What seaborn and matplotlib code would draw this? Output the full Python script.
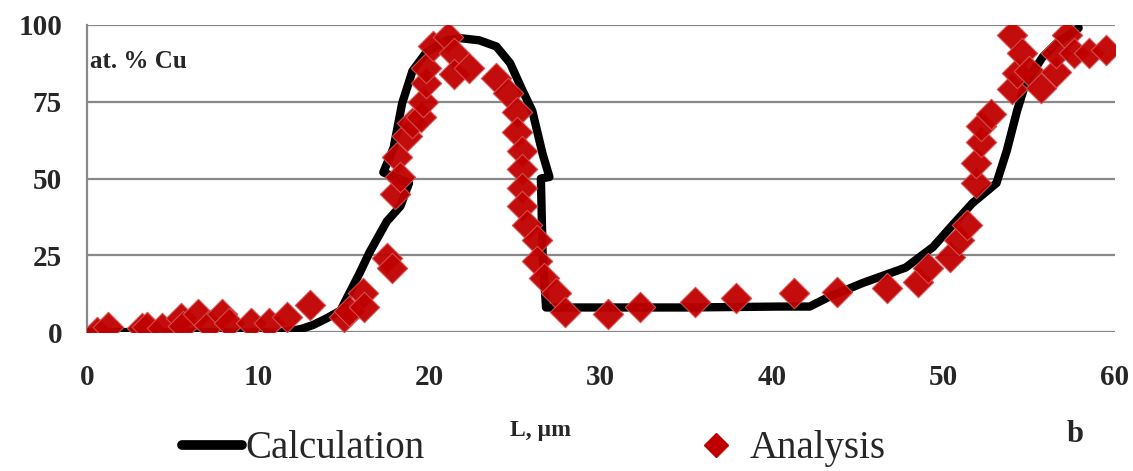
import numpy as np
import pandas as pd
import matplotlib
matplotlib.use('Agg')
import matplotlib.pyplot as plt
import seaborn as sns
from matplotlib.lines import Line2D

# calculated profile (drawn in order, the curve doubles back at the steps)
calc_L = [0.0, 11.5, 12.5, 13.2, 14.0, 14.8, 15.9, 16.5, 16.9, 17.5, 18.3, 18.8,
          17.3, 17.9, 18.4, 19.0, 19.8, 21.0, 21.8, 22.9, 23.9, 24.7, 25.4, 26.0, 26.6, 27.0,
          26.5, 26.6, 26.8, 28.0, 35.0, 40.4, 42.2, 43.3, 45.3, 47.8, 49.4, 50.4, 51.7,
          53.1, 53.7, 54.3, 54.8, 55.8, 56.6, 57.9]
calc_cu = [0.0, 0.0, 1.0, 2.3, 4.5, 7.0, 19.0, 26.0, 30.0, 36.0, 41.0, 48.5,
           52.0, 60.0, 74.5, 85.0, 91.0, 95.0, 95.7, 95.0, 93.0, 87.6, 79.0, 72.0, 58.0, 50.5,
           50.0, 25.7, 8.0, 8.0, 8.0, 8.3, 8.3, 11.4, 16.0, 21.0, 27.7, 34.0, 42.0,
           48.5, 59.0, 72.0, 81.0, 89.6, 94.0, 99.0]

# measured points
anal_L = [0.6, 1.2, 3.2, 3.5, 4.4, 5.5, 5.6, 6.5, 7.1, 7.9, 8.3, 9.6, 10.6, 11.7, 13.0,
          15.0, 15.3, 16.1, 16.2, 17.5, 17.8, 18.0, 18.1, 18.3, 18.7, 19.0, 19.5, 19.6, 19.8,
          19.8, 20.2, 21.1, 21.4, 21.4, 22.3, 23.9, 24.6, 25.1, 25.1, 25.4, 25.4, 25.4, 25.4,
          25.7, 26.3, 26.3, 26.7, 27.4, 27.9, 30.4, 32.3, 35.5, 37.9, 41.3, 43.8, 46.7,
          48.5, 49.1, 50.4, 50.9, 51.4, 51.9, 51.9, 52.2, 52.2, 52.8, 54.0, 54.0, 54.3,
          54.6, 55.0, 55.7, 56.6, 56.6, 57.2, 57.6, 58.5, 59.5]
anal_cu = [0.0, 1.5, 1.3, 1.8, 1.3, 4.5, 2.0, 6.0, 2.3, 6.0, 3.0, 3.0, 3.0, 5.0, 8.8,
           5.0, 7.0, 12.7, 8.0, 24.0, 21.0, 45.0, 57.0, 50.5, 64.0, 68.0, 70.0, 75.0, 81.0,
           86.0, 93.0, 96.0, 91.0, 84.0, 86.0, 82.7, 78.0, 71.6, 65.0, 59.0, 53.0, 47.0, 41.0,
           35.0, 30.0, 23.0, 17.6, 12.7, 6.5, 6.0, 8.0, 9.8, 11.0, 12.7, 13.0, 14.3,
           16.3, 20.8, 24.4, 30.0, 35.0, 48.5, 55.0, 62.0, 67.0, 71.0, 96.7, 79.0, 84.4,
           91.0, 85.0, 79.5, 84.7, 91.0, 96.7, 91.0, 91.0, 92.0]

calc_df = pd.DataFrame({'L': calc_L, 'Cu': calc_cu})
anal_df = pd.DataFrame({'L': anal_L, 'Cu': anal_cu})

sns.set_style('white')
plt.rcParams['font.family'] = ['Liberation Serif', 'DejaVu Serif']

fig = plt.figure(figsize=(11.33, 4.71), dpi=100)
ax = fig.add_axes([0.0768, 0.295, 0.907, 0.652])

sns.lineplot(data=calc_df, x='L', y='Cu', sort=False, estimator=None, color='black',
             linewidth=6, ax=ax, zorder=2, legend=False)
sns.scatterplot(data=anal_df, x='L', y='Cu', marker='D', s=240, color='#C00000',
                edgecolor='#d65050', linewidth=0.8, alpha=0.95, ax=ax, zorder=3, legend=False)

ax.set_xlim(0, 60)
ax.set_ylim(0, 100)
ax.set_xticks([0, 10, 20, 30, 40, 50, 60])
ax.set_yticks([0, 25, 50, 75, 100])
ax.yaxis.grid(True, color='#888888', linewidth=1.6)
ax.set_axisbelow(True)
for s in ['top', 'right', 'bottom']:
    ax.spines[s].set_visible(False)
ax.spines['left'].set_color('#888888')
ax.spines['left'].set_linewidth(1.6)
ax.tick_params(axis='both', length=0, labelsize=21)
ax.tick_params(axis='x', pad=23)
ax.tick_params(axis='y', pad=18)
for lab in ax.get_xticklabels() + ax.get_yticklabels():
    lab.set_fontweight('bold')
ax.set_xlabel('')
ax.set_ylabel('')

ax.text(0.003, 0.88, 'at. % Cu', transform=ax.transAxes, fontsize=18, fontweight='bold',
        va='center', ha='left')
fig.text(0.477, 0.087, 'L, µm', fontsize=17, fontweight='bold', ha='center', va='center')
fig.text(0.949, 0.077, 'b', fontsize=22, fontweight='bold', ha='center', va='center')

handles = [Line2D([], [], color='black', linewidth=7),
           Line2D([], [], color='#C00000', marker='D', linestyle='', markersize=12)]
fig.legend(handles, ['Calculation', 'Analysis'], loc='lower center', bbox_to_anchor=(0.471, -0.05),
           ncol=2, frameon=False, fontsize=28, handlelength=1.55, handletextpad=0.1,
           columnspacing=6.7, borderpad=0.2)

fig.savefig('out.png', dpi=100)
